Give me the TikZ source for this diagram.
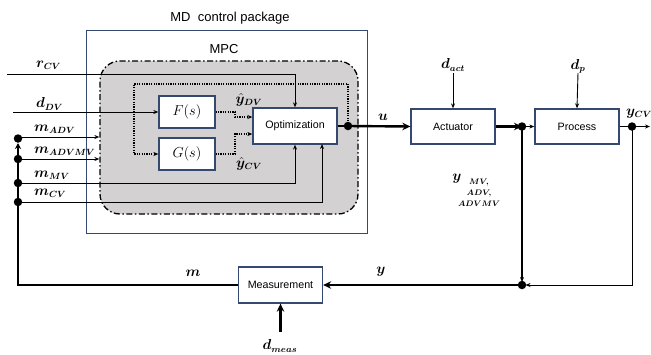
\documentclass[tikz,border=0pt]{standalone}
\usepackage{fontspec}
\setmainfont{Liberation Sans}
\usepackage{bm}
\usetikzlibrary{arrows.meta,calc}
\definecolor{boxblue}{RGB}{52,72,112}
\definecolor{mpcgray}{RGB}{211,209,210}
\begin{document}
\begin{tikzpicture}[x=1pt,y=-1pt,
  blk/.style={draw=boxblue, line width=1.3pt, fill=white, minimum width=84pt, minimum height=36pt, inner sep=0pt, font=\fontsize{10.7}{12}\selectfont},
  tf/.style={draw=boxblue, line width=1.3pt, fill=white, minimum width=56pt, minimum height=32pt, inner sep=0pt, font=\fontsize{15}{17}\selectfont},
  thinln/.style={line width=0.9pt},
  thickln/.style={line width=2.4pt},
  arr/.style={-{Stealth[length=5pt,width=4pt]}},
  tarr/.style={-{Stealth[length=8pt,width=7.5pt]}},
  dotln/.style={line width=1.2pt, dash pattern=on 1.2pt off 1.2pt},
  jdot/.style={circle, fill=black, inner sep=0pt, minimum size=8.5pt},
  lbl/.style={font=\fontsize{13.5}{15}\selectfont, inner sep=0pt},
  title/.style={font=\fontsize{13}{15}\selectfont, inner sep=0pt}
]
\useasboundingbox (0,0) rectangle (651,354);
% containers
\node[draw=boxblue, line width=1pt, minimum width=281pt, minimum height=203pt, inner sep=0pt] (md) at (226.5,131.5) {};
\node[title] (mdlbl) at (230,18) {MD\ \ control package};
\node[draw=black, fill=mpcgray, line width=1.3pt, rounded corners=20pt,
      dash pattern=on 6pt off 2.5pt on 1.5pt off 2.5pt,
      minimum width=258pt, minimum height=153pt, inner sep=0pt] (mpc) at (229,137.5) {};
\node[title] (mpclbl) at (224,49) {MPC};
% blocks
\node[blk] (opt) at (295,126) {Optimization};
\node[blk, minimum height=35pt] (act) at (453,126.5) {Actuator};
\node[blk, minimum height=35pt] (proc) at (577,126.5) {Process};
\node[blk] (meas) at (280.5,285) {Measurement};
\node[tf] (F) at (187,112) {$F(s)$};
\node[tf] (G) at (187,154) {$G(s)$};
% coordinates
\coordinate (rcv) at (7,74);
\coordinate (ddv) at (13,112);
\coordinate (bADV) at (18,137);
\coordinate (bADVMV) at (18,159);
\coordinate (bMV) at (18,183);
\coordinate (bCV) at (18,202);
\coordinate (bustop) at (18,143);
\coordinate (cvin) at (322,144);
\coordinate (odot) at (348,126);
\coordinate (lpTL) at (134,84);
\coordinate (fbend) at (235,112);
\coordinate (gbend) at (235,154);
\coordinate (adot) at (522,126.5);
\coordinate (ydot) at (632,126.5);
\coordinate (yout) at (650,126.5);
\coordinate (bdot) at (522,285);
\coordinate (dact) at (453,73);
\coordinate (dp) at (578,73);
\coordinate (dmeas) at (280.5,332);
% input lines
\draw[thinln,arr] (rcv) -| (opt.north);
\draw[thinln,arr] (ddv) -- (F.west);
\draw[thinln,arr] (bADV) -- (mpc.west |- bADV);
\draw[thinln,arr] (bADVMV) -- (mpc.west |- bADVMV);
\draw[thinln,arr] (bMV) -| (opt.south);
\draw[thinln,arr] (bCV) -| (cvin);
% dotted model paths
\draw[dotln,arr] (odot) |- (lpTL) |- (G.west);
\draw[dotln,arr] (F.east) -- (fbend) |- ($(opt.west)+(0,-9)$);
\draw[dotln,arr] (G.east) -- (gbend) |- ($(opt.west)+(0,8)$);
% bus
\draw[thickln,-{Stealth[length=6pt,width=6pt]}] (meas.west) -| (bustop);
\draw[thickln] (bADVMV) -- (bCV);
% forward path
\draw[thickln] (opt.east) -- (odot);
\draw[thickln,tarr] (odot) -- (act.west);
\draw[thickln,tarr] (act.east) -- (adot);
\draw[thinln,arr] (adot) -- (proc.west);
\draw[thinln,arr] (proc.east) -- (yout);
\draw[thinln,arr] (dact) -- (act.north);
\draw[thinln,arr] (dp) -- (proc.north);
% feedback
\draw[thickln,arr,shorten >=3pt] (adot) -- (bdot);
\draw[thinln,arr,shorten >=3.5pt] (ydot) |- (bdot);
\draw[thickln,tarr] (bdot) -- (meas.east);
\draw[thickln,tarr] (dmeas) -- (meas.south);
% dots
\foreach \p in {odot,adot,ydot,bdot,bADVMV,bMV,bCV}{\node[jdot] at (\p) {};}
\node[jdot] at (18,138.5) {};
% labels
\node[lbl,anchor=west] (lrcv) at (36,65) {$\bm{r}_{\bm{CV}}$};
\node[lbl,anchor=west] (lddv) at (36,104) {$\bm{d}_{\bm{DV}}$};
\node[lbl,anchor=west] (lmadv) at (34,129) {$\bm{m}_{\bm{ADV}}$};
\node[lbl,anchor=west] (lmadvmv) at (34,151) {$\bm{m}_{\bm{ADVMV}}$};
\node[lbl,anchor=west] (lmmv) at (34,175) {$\bm{m}_{\bm{MV}}$};
\node[lbl,anchor=west] (lmcv) at (34,193) {$\bm{m}_{\bm{CV}}$};
\node[lbl] (lydv) at (249,100) {$\hat{\bm{y}}_{\bm{DV}}$};
\node[lbl] (lycv) at (249,164) {$\hat{\bm{y}}_{\bm{CV}}$};
\node[lbl] (lu) at (383,117) {$\bm{u}$};
\node[lbl] (ldact) at (453,65) {$\bm{d}_{\bm{act}}$};
\node[lbl] (ldp) at (578,66) {$\bm{d}_{\bm{p}}$};
\node[lbl] (lycvo) at (639,114) {$\bm{y}_{\bm{CV}}$};
\node[lbl] (lm) at (193,273) {$\bm{m}$};
\node[lbl] (ly) at (381,272) {$\bm{y}$};
\node[lbl] (ldmeas) at (280,346) {$\bm{d}_{\bm{meas}}$};
\node[lbl, font=\fontsize{15}{17}\selectfont] (ly2) at (457,179) {$\bm{y}$};
\node[inner sep=0pt, align=center, font=\fontsize{8.5}{11}\selectfont] (ly2sub) at (479,193)
  {$\bm{MV,}$\\$\bm{ADV,}$\\$\bm{ADVMV}$};
\end{tikzpicture}
\end{document}
